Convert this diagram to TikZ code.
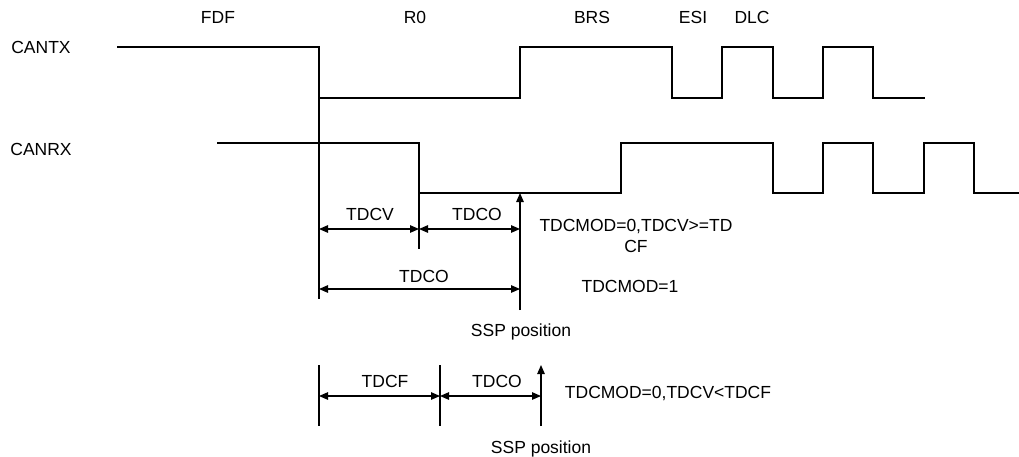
\documentclass[tikz,border=0pt]{standalone}
\usepackage{fontspec}
\setmainfont{Liberation Sans}
\usetikzlibrary{arrows.meta,positioning}

\tikzset{
  sig/.style={line width=1.3pt},
  dimline/.style={line width=1.2pt},
  dimarrow/.style={line width=1.2pt,{Triangle[length=9pt,width=7.5pt]}-{Triangle[length=9pt,width=7.5pt]}},
  ssparrow/.style={line width=1.2pt,-{Triangle[length=9pt,width=7.5pt]}},
  lbl/.style={font=\fontsize{17.5}{21}\selectfont,inner sep=0pt,anchor=base},
}

\begin{document}
\begin{tikzpicture}[x=1pt,y=-1pt]
  \useasboundingbox (0,0) rectangle (1019,456);
  % frame fields
  \foreach \name/\xpos in {FDF/218,R0/415,BRS/592,ESI/693,DLC/752}
    \node[lbl] (f-\name) at (\xpos,23) {\name};
  % signals
  \node[lbl] (cantx) at (41,53) {CANTX};
  \node[lbl] (canrx) at (41,155) {CANRX};
  \draw[sig] (117,47) -| (319,98) -| (520,47) -| (672,98) -| (722,47) -| (773,98)
    -| (823,47) -| (873,98) -- (925,98);
  \draw[sig] (217,143) -| (419,193) -| (621,143) -| (773,193) -| (823,143) -| (873,193)
    -| (924,143) -| (974,193) -- (1019,193);
  % TDCMOD=0, TDCV>=TDCF and TDCMOD=1
  \coordinate (txedge) at (319,98);
  \coordinate (rxedge) at (419,193);
  \coordinate (ssp) at (520,193);
  \coordinate (txend) at (319,299);
  \coordinate (rxend) at (419,249);
  \coordinate (sspend) at (520,310);
  \draw[dimline] (txedge) -- (txend);
  \draw[dimline] (rxedge) -- (rxend);
  \draw[ssparrow] (sspend) -- (ssp);
  \coordinate (v1) at (319,229);
  \coordinate (v2) at (419,229);
  \coordinate (v3) at (520,229);
  \coordinate (o1) at (319,289);
  \coordinate (o2) at (520,289);
  \draw[dimarrow] (v1) -- (v2);
  \draw[dimarrow] (v2) -- (v3);
  \draw[dimarrow] (o1) -- (o2);
  \node[lbl] (tdcv) at (370,220) {TDCV};
  \node[lbl] (tdco-a) at (477,220) {TDCO};
  \node[lbl] (tdco-b) at (424,282) {TDCO};
  \node[lbl,align=center] (mod-a) at (636,252) {TDCMOD=0,TDCV>=TD\\CF};
  \node[lbl] (mod-b) at (630,292) {TDCMOD=1};
  \node[lbl] (ssp-a) at (521,336) {SSP position};
  % TDCMOD=0, TDCV<TDCF
  \coordinate (f1) at (319,365);
  \coordinate (f2) at (440,365);
  \coordinate (f1end) at (319,426);
  \coordinate (f2end) at (440,426);
  \coordinate (sspb) at (541,365);
  \coordinate (sspbend) at (541,426);
  \draw[dimline] (f1) -- (f1end);
  \draw[dimline] (f2) -- (f2end);
  \draw[ssparrow] (sspbend) -- (sspb);
  \coordinate (h1) at (319,396);
  \coordinate (h2) at (440,396);
  \coordinate (h3) at (541,396);
  \draw[dimarrow] (h1) -- (h2);
  \draw[dimarrow] (h2) -- (h3);
  \node[lbl] (tdcf) at (385,387) {TDCF};
  \node[lbl] (tdco-c) at (497,387) {TDCO};
  \node[lbl] (mod-c) at (668,398) {TDCMOD=0,TDCV<TDCF};
  \node[lbl] (ssp-b) at (541,453) {SSP position};
\end{tikzpicture}
\end{document}
